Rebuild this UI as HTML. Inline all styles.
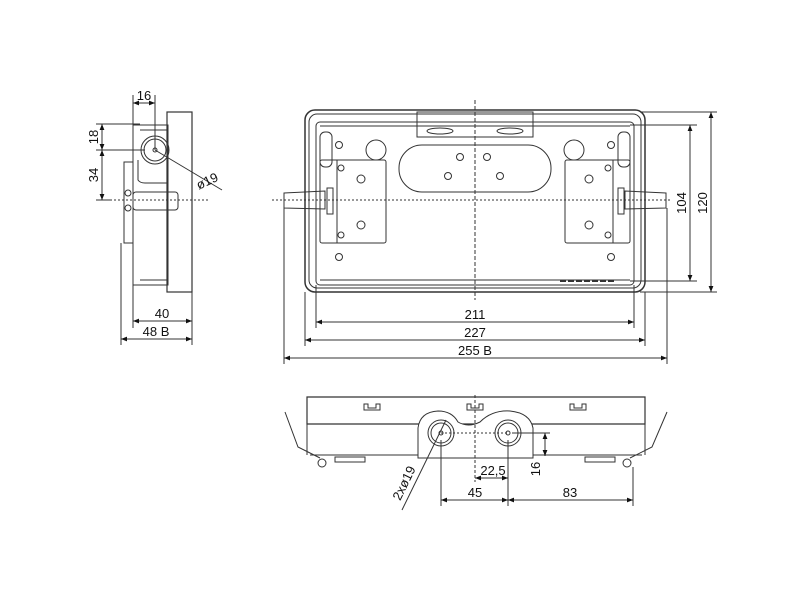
<!DOCTYPE html>
<html><head><meta charset="utf-8"><style>html,body{margin:0;padding:0;background:#fff}svg{display:block}text{font-family:"Liberation Sans",sans-serif;font-size:13px;fill:#111}</style></head><body>
<svg width="800" height="600" viewBox="0 0 800 600">
<defs><marker id="a" viewBox="0 0 10 10" refX="10" refY="5" markerWidth="8" markerHeight="6" orient="auto-start-reverse"><path d="M0,1L10,5L0,9z" fill="#111"/></marker></defs>
<g fill="none" stroke="#333" stroke-width="1">
<rect x="167" y="112" width="25" height="180" stroke-width="1.2"/>
<rect x="133" y="125" width="35" height="160"/>
<line x1="140" y1="130" x2="167" y2="130"/><line x1="140" y1="280" x2="167" y2="280"/>
<circle cx="155" cy="150" r="14"/><circle cx="155" cy="150" r="11"/><circle cx="155" cy="150" r="2"/>
<path d="M138,160 L138,180 Q140,183 145,183 L167,183"/>
<rect x="124" y="162" width="9" height="81"/>
<rect x="133" y="192" width="45" height="18" rx="3"/>
<circle cx="128" cy="193" r="3"/><circle cx="128" cy="208" r="3"/>
<line x1="110" y1="200" x2="210" y2="200" stroke-dasharray="2,2"/>
<line x1="155" y1="150" x2="222" y2="190"/>
<line x1="133" y1="95" x2="133" y2="125"/><line x1="155" y1="95" x2="155" y2="150"/>
<line x1="133" y1="103" x2="155" y2="103" marker-start="url(#a)" marker-end="url(#a)"/>
<line x1="96" y1="124" x2="140" y2="124"/><line x1="96" y1="150" x2="145" y2="150"/><line x1="96" y1="200" x2="112" y2="200"/>
<line x1="102" y1="124" x2="102" y2="150" marker-start="url(#a)" marker-end="url(#a)"/>
<line x1="102" y1="150" x2="102" y2="200" marker-start="url(#a)" marker-end="url(#a)"/>
<line x1="133" y1="285" x2="133" y2="328"/><line x1="192" y1="292" x2="192" y2="345"/><line x1="121" y1="243" x2="121" y2="345"/>
<line x1="133" y1="321" x2="192" y2="321" marker-start="url(#a)" marker-end="url(#a)"/>
<line x1="121" y1="339" x2="192" y2="339" marker-start="url(#a)" marker-end="url(#a)"/>
<rect x="305" y="110" width="340" height="182" rx="10" stroke-width="1.5"/>
<rect x="309" y="114" width="332" height="174" rx="8"/>
<rect x="316" y="122" width="318" height="163" rx="4"/>
<line x1="320" y1="126" x2="630" y2="126"/><line x1="320" y1="280" x2="630" y2="280"/>
<rect x="417" y="112" width="116" height="25"/>
<ellipse cx="440" cy="131" rx="13" ry="3"/><ellipse cx="510" cy="131" rx="13" ry="3"/>
<rect x="399" y="145" width="152" height="47" rx="23"/>
<circle cx="460" cy="157" r="3.5"/><circle cx="487" cy="157" r="3.5"/><circle cx="448" cy="176" r="3.5"/><circle cx="500" cy="176" r="3.5"/>
<circle cx="376" cy="150" r="10"/><circle cx="574" cy="150" r="10"/>
<circle cx="339" cy="145" r="3.5"/><circle cx="339" cy="257" r="3.5"/><circle cx="611" cy="145" r="3.5"/><circle cx="611" cy="257" r="3.5"/>
<rect x="320" y="132" width="12" height="35" rx="5"/><rect x="618" y="132" width="12" height="35" rx="5"/>
<rect x="320" y="160" width="66" height="83" rx="2"/><line x1="337" y1="160" x2="337" y2="243"/>
<rect x="565" y="160" width="65" height="83" rx="2"/><line x1="613" y1="160" x2="613" y2="243"/>
<circle cx="361" cy="179" r="4"/><circle cx="361" cy="225" r="4"/><circle cx="589" cy="179" r="4"/><circle cx="589" cy="225" r="4"/>
<circle cx="341" cy="168" r="3"/><circle cx="341" cy="235" r="3"/><circle cx="608" cy="168" r="3"/><circle cx="608" cy="235" r="3"/>
<path d="M284,193 L325,191 L325,209 L284,208 Z"/><path d="M666,193 L625,191 L625,209 L666,208 Z"/>
<rect x="327" y="188" width="6" height="26"/><rect x="618" y="188" width="6" height="26"/>
<line x1="560" y1="281" x2="616" y2="281" stroke-dasharray="6,2" stroke-width="2"/>
<line x1="475" y1="100" x2="475" y2="300" stroke-dasharray="4,2"/>
<line x1="272" y1="200" x2="672" y2="200" stroke-dasharray="2,2"/>
<line x1="316" y1="285" x2="316" y2="328"/><line x1="634" y1="285" x2="634" y2="328"/>
<line x1="305" y1="292" x2="305" y2="346"/><line x1="645" y1="292" x2="645" y2="346"/>
<line x1="284" y1="208" x2="284" y2="364"/><line x1="667" y1="208" x2="667" y2="364"/>
<line x1="316" y1="322" x2="634" y2="322" marker-start="url(#a)" marker-end="url(#a)"/>
<line x1="305" y1="340" x2="645" y2="340" marker-start="url(#a)" marker-end="url(#a)"/>
<line x1="284" y1="358" x2="667" y2="358" marker-start="url(#a)" marker-end="url(#a)"/>
<line x1="630" y1="125" x2="697" y2="125"/><line x1="630" y1="281" x2="697" y2="281"/>
<line x1="640" y1="112" x2="717" y2="112"/><line x1="640" y1="292" x2="717" y2="292"/>
<line x1="690" y1="125" x2="690" y2="281" marker-start="url(#a)" marker-end="url(#a)"/>
<line x1="711" y1="112" x2="711" y2="292" marker-start="url(#a)" marker-end="url(#a)"/>
<path d="M307,397 L645,397 L645,424 L307,424 Z" stroke-width="1.2"/>
<line x1="307" y1="424" x2="307" y2="455"/><line x1="645" y1="424" x2="645" y2="455"/>
<line x1="310" y1="455" x2="418" y2="455"/><line x1="533" y1="455" x2="642" y2="455"/>
<path d="M418,458 L418,428 Q420,412 438,411 Q452,411 458,422 Q468,428 480,422 Q492,410 510,411 Q530,413 533,428 L533,458 Z" fill="#fff"/>
<circle cx="441" cy="433" r="13"/><circle cx="441" cy="433" r="10"/><circle cx="441" cy="433" r="2"/>
<circle cx="508" cy="433" r="13"/><circle cx="508" cy="433" r="10"/><circle cx="508" cy="433" r="2"/>
<path d="M364,410 L364,404 L368,404 L368,408 L376,408 L376,404 L380,404 L380,410 Z"/>
<path d="M467,410 L467,404 L471,404 L471,408 L479,408 L479,404 L483,404 L483,410 Z"/>
<path d="M570,410 L570,404 L574,404 L574,408 L582,408 L582,404 L586,404 L586,410 Z"/>
<path d="M285,412 L298,447 L320,458"/><path d="M667,412 L652,447 L630,458"/>
<circle cx="322" cy="463" r="4"/><circle cx="627" cy="463" r="4"/>
<rect x="335" y="457" width="30" height="5"/><rect x="585" y="457" width="30" height="5"/>
<line x1="475" y1="395" x2="475" y2="482" stroke-dasharray="3,2"/>
<line x1="441" y1="433" x2="508" y2="433" stroke-dasharray="2,2"/>
<line x1="446" y1="420" x2="402" y2="510"/>
<line x1="512" y1="433" x2="550" y2="433"/>
<line x1="545" y1="433" x2="545" y2="456" marker-start="url(#a)" marker-end="url(#a)"/>
<line x1="441" y1="440" x2="441" y2="506"/><line x1="508" y1="440" x2="508" y2="506"/><line x1="633" y1="467" x2="633" y2="506"/>
<line x1="475" y1="478" x2="508" y2="478" marker-start="url(#a)" marker-end="url(#a)"/>
<line x1="441" y1="500" x2="508" y2="500" marker-start="url(#a)" marker-end="url(#a)"/>
<line x1="508" y1="500" x2="633" y2="500" marker-start="url(#a)" marker-end="url(#a)"/>
</g>
<text x="144" y="100" text-anchor="middle">16</text>
<text x="98" y="137" text-anchor="middle" transform="rotate(-90 98 137)">18</text>
<text x="98" y="175" text-anchor="middle" transform="rotate(-90 98 175)">34</text>
<text x="209" y="185" text-anchor="middle" transform="rotate(-25 209 185)">ø19</text>
<text x="162" y="318" text-anchor="middle">40</text>
<text x="156" y="336" text-anchor="middle">48 B</text>
<text x="475" y="319" text-anchor="middle">211</text>
<text x="475" y="337" text-anchor="middle">227</text>
<text x="475" y="355" text-anchor="middle">255 B</text>
<text x="686" y="203" text-anchor="middle" transform="rotate(-90 686 203)">104</text>
<text x="707" y="203" text-anchor="middle" transform="rotate(-90 707 203)">120</text>
<text x="540" y="469" text-anchor="middle" transform="rotate(-90 540 469)">16</text>
<text x="493" y="475" text-anchor="middle">22,5</text>
<text x="475" y="497" text-anchor="middle">45</text>
<text x="570" y="497" text-anchor="middle">83</text>
<text x="408" y="485" text-anchor="middle" transform="rotate(-64 408 485)">2xø19</text>
</svg>
</body></html>
